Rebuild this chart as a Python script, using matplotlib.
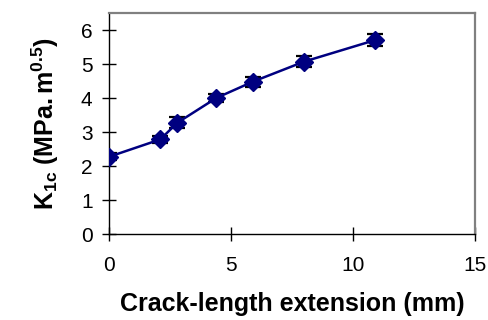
import matplotlib
matplotlib.use("Agg")
import matplotlib.pyplot as plt

plt.rcParams['font.family'] = ['Liberation Sans', 'DejaVu Sans']
plt.rcParams['mathtext.fontset'] = 'custom'
plt.rcParams['mathtext.rm'] = 'Liberation Sans'
plt.rcParams['mathtext.bf'] = 'Liberation Sans:bold'
plt.rcParams['mathtext.it'] = 'Liberation Sans:italic'

crack_ext = [0.0, 2.1, 2.8, 4.4, 5.9, 8.0, 10.9]
k1c = [2.28, 2.79, 3.28, 4.01, 4.49, 5.08, 5.71]
k1c_err = [0.10, 0.10, 0.16, 0.13, 0.15, 0.16, 0.17]

x_ticks = [0, 5, 10, 15]
y_ticks = [0, 1, 2, 3, 4, 5, 6]

fig = plt.figure(figsize=(4.89, 3.20), dpi=100)
L, R, T, B = 109 / 489, 475 / 489, 13.3 / 320, 234.3 / 320
ax = fig.add_axes([L, 1 - B, R - L, B - T])

ax.errorbar(crack_ext, k1c, yerr=k1c_err, fmt='none', ecolor='black',
            elinewidth=1.2, capsize=5.5, capthick=1.6, zorder=2)
ax.plot(crack_ext, k1c, color='#000080', linewidth=1.8, marker='D',
        markersize=9.5, markerfacecolor='#000080', markeredgecolor='#000080',
        zorder=3)

ax.set_xlim(0, 15)
ax.set_ylim(0, 6.5)
ax.set_xticks(x_ticks)
ax.set_yticks(y_ticks)
ax.tick_params(direction='inout', length=9.6, width=1, labelsize=15,
               colors='black')
ax.tick_params(axis='x', pad=11)
ax.tick_params(axis='y', pad=7)

for side in ['top', 'right']:
    ax.spines[side].set_color('#808080')
    ax.spines[side].set_linewidth(1.6)
for side in ['left', 'bottom']:
    ax.spines[side].set_color('black')
    ax.spines[side].set_linewidth(1)

ax.set_xlabel('Crack-length extension (mm)', fontsize=18, fontweight='bold',
              labelpad=12)
ax.set_ylabel(r'$\mathbf{K_{1c}\ (MPa.m^{0.5})}$', fontsize=18, labelpad=14)

fig.savefig('out.png', dpi=100)
